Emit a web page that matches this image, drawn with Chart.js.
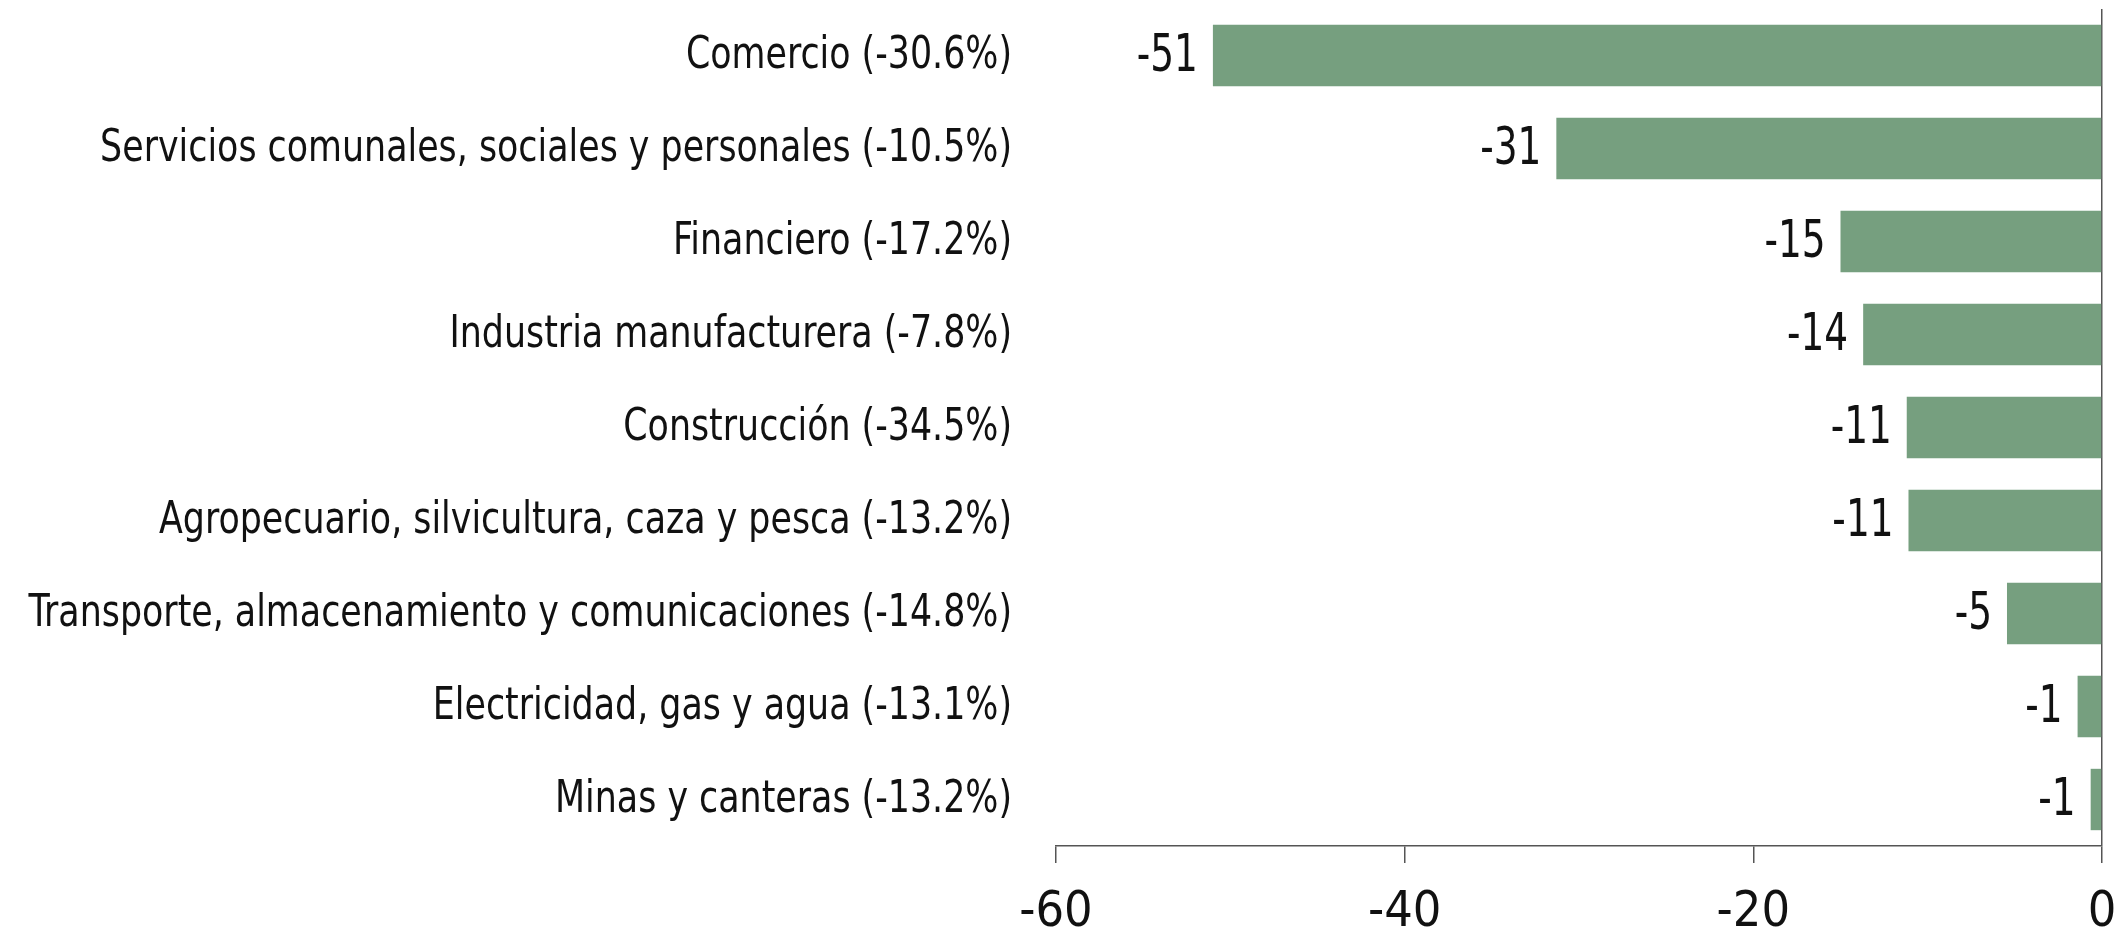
<!DOCTYPE html>
<html>
<head>
<meta charset="utf-8">
<script src="https://cdn.jsdelivr.net/npm/chart.js@4/dist/chart.umd.min.js"></script>
<style>
  html, body { margin: 0; padding: 0; background: #fff; }
  #wrap { width: 2116px; height: 938px; position: relative; }
</style>
</head>
<body>
<div id="wrap"><canvas id="c"></canvas></div>
<script>
const categories = [
  "Comercio (-30.6%)",
  "Servicios comunales, sociales y personales (-10.5%)",
  "Financiero (-17.2%)",
  "Industria manufacturera (-7.8%)",
  "Construcción (-34.5%)",
  "Agropecuario, silvicultura, caza y pesca (-13.2%)",
  "Transporte, almacenamiento y comunicaciones (-14.8%)",
  "Electricidad, gas y agua (-13.1%)",
  "Minas y canteras (-13.2%)"
];
const values = [-51.0, -31.3, -15.0, -13.7, -11.2, -11.1, -5.45, -1.4, -0.65];
const valueLabels = ["-51", "-31", "-15", "-14", "-11", "-11", "-5", "-1", "-1"];
const xMin = -60;
const xMax = 0;
const xStep = 20;

const FONT = '"DejaVu Sans Condensed", "Liberation Sans Narrow", sans-serif';

// draws text compressed horizontally (condensed look), right-aligned at x
function drawCondensed(ctx, text, x, y, squeeze) {
  ctx.save();
  ctx.translate(x, y);
  ctx.scale(squeeze, 1);
  ctx.fillText(text, 0, 0);
  ctx.restore();
}

const labelPlugin = {
  id: 'labels',
  afterDatasetsDraw(chart) {
    const ctx = chart.ctx;
    const meta = chart.getDatasetMeta(0);
    const yScale = chart.scales.y;
    ctx.save();
    ctx.fillStyle = '#111';
    ctx.textAlign = 'right';
    ctx.textBaseline = 'middle';
    ctx.font = '52px ' + FONT;
    meta.data.forEach((bar, i) => {
      drawCondensed(ctx, valueLabels[i], bar.x - 15, bar.y + 2, 0.8);
    });
    ctx.font = '44px ' + FONT;
    categories.forEach((cat, i) => {
      drawCondensed(ctx, cat, chart.chartArea.left - 44, yScale.getPixelForValue(i) + 1, 0.88);
    });
    ctx.restore();
  }
};

new Chart(document.getElementById('c'), {
  type: 'bar',
  data: {
    labels: categories,
    datasets: [{
      data: values,
      backgroundColor: '#769f7f',
      borderWidth: 0,
      barPercentage: 0.66,
      categoryPercentage: 1
    }]
  },
  options: {
    indexAxis: 'y',
    responsive: true,
    maintainAspectRatio: false,
    animation: false,
    layout: { padding: { top: 9, right: 0, left: 0, bottom: 0 } },
    plugins: { legend: { display: false }, tooltip: { enabled: false } },
    scales: {
      x: {
        min: xMin,
        max: xMax,
        ticks: {
          stepSize: xStep,
          font: { size: 50, family: FONT },
          color: '#111',
          padding: 20,
          maxRotation: 0
        },
        grid: {
          color: (c) => (c.tick && c.tick.value === 0) ? '#555' : 'rgba(0,0,0,0)',
          lineWidth: 1.5,
          drawOnChartArea: true,
          drawTicks: true,
          tickLength: 17,
          tickColor: '#555',
          tickWidth: 1.5
        },
        border: { display: true, color: '#555', width: 1.5 },
        afterFit: (s) => { s.height = 92; s.paddingRight = 14; }
      },
      y: {
        ticks: { display: false },
        grid: { display: false, drawTicks: false },
        border: { display: false },
        afterFit: (s) => { s.width = 1056; s.paddingTop = 0; s.paddingBottom = 0; }
      }
    }
  },
  plugins: [labelPlugin]
});
</script>
</body>
</html>
